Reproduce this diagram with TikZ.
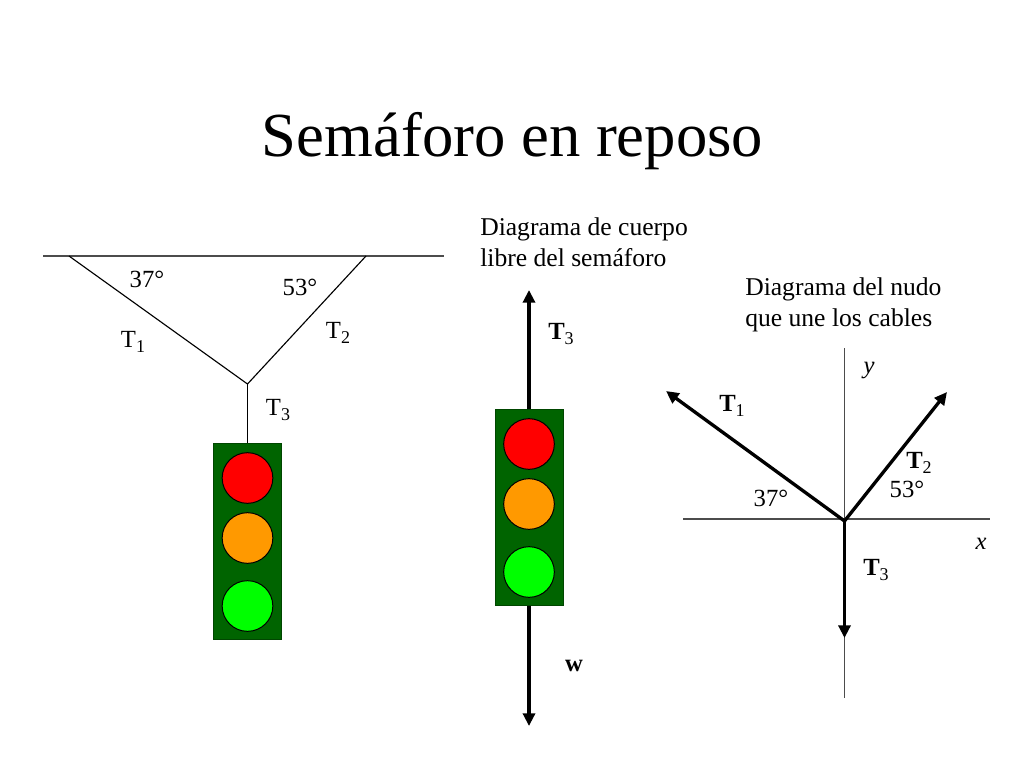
\documentclass[tikz,border=0pt]{standalone}
\usepackage{fontspec}
\usepackage{xcolor}
\usetikzlibrary{arrows.meta}
\setmainfont{Liberation Serif}
\definecolor{verdecaja}{RGB}{0,100,0}
\definecolor{rojoluz}{RGB}{255,0,0}
\definecolor{naranjaluz}{RGB}{255,153,0}
\definecolor{verdeluz}{RGB}{0,255,0}
\newcommand{\subind}[1]{\raisebox{-0.22em}{\fontsize{13.5}{15}\selectfont #1}}
\tikzset{
  caja/.style={draw=verdecaja!70!black,fill=verdecaja,line width=0.5pt,minimum width=51pt,minimum height=147pt,inner sep=0pt},
  luz/.style={circle,draw=black,line width=0.75pt,minimum size=38pt,inner sep=0pt},
  etiqueta/.style={inner sep=0pt,font=\fontsize{18.5}{23}\selectfont},
  rotulo/.style={inner sep=0pt,anchor=west,align=left,font=\fontsize{19.2}{23.25}\selectfont},
  negrita/.style={inner sep=0pt,font=\fontsize{18.5}{23}\bfseries\selectfont},
  cursiva/.style={inner sep=0pt,font=\fontsize{18.5}{23}\itshape\selectfont},
  cuerda/.style={line width=0.85pt},
  eje/.style={line width=1pt,black!70},
  fuerza/.style={line width=2.5pt,-{Triangle[length=9.5pt,width=9pt]}},
}
\begin{document}
\begin{tikzpicture}[x=0.75pt,y=-0.75pt]
\useasboundingbox (0,0) rectangle (1024,768);
\node[inner sep=0pt,font=\fontsize{47}{56}\selectfont] (titulo) at (512.5,141) {Semáforo en reposo};
% cuerdas y techo
\coordinate (techoA) at (43,256);
\coordinate (techoB) at (444,256);
\coordinate (anclaA) at (69,256);
\coordinate (anclaB) at (366,256);
\coordinate (nudo) at (247.5,384);
\draw[eje] (techoA) -- (techoB);
\node[caja] (cajaA) at (247.5,541) {};
\node[luz,fill=rojoluz] (rojoA) at (247.5,478) {};
\node[luz,fill=naranjaluz] (naranjaA) at (247.5,538) {};
\node[luz,fill=verdeluz] (verdeA) at (247.5,606) {};
\draw[cuerda] (anclaA) -- (nudo) -- (anclaB);
\draw[cuerda] (nudo) -- (cajaA.north);
\node[etiqueta] (ang37A) at (147,279) {37°};
\node[etiqueta] (ang53A) at (300,287) {53°};
\node[etiqueta] (t1A) at (133,342) {T\subind{1}};
\node[etiqueta] (t2A) at (338,333) {T\subind{2}};
\node[etiqueta] (t3A) at (278,410) {T\subind{3}};
% cuerpo libre
\node[rotulo] (textoB) at (480,242) {Diagrama de cuerpo\\libre del semáforo};
\node[caja] (cajaB) at (529,507.5) {};
\node[luz,fill=rojoluz] (rojoB) at (529,444) {};
\node[luz,fill=naranjaluz] (naranjaB) at (529,504) {};
\node[luz,fill=verdeluz] (verdeB) at (529,572) {};
\coordinate (puntaT) at (529,290);
\coordinate (puntaW) at (529,726);
\draw[fuerza] (cajaB.north) -- (puntaT);
\draw[fuerza] (cajaB.south) -- (puntaW);
\node[negrita] (t3B) at (561,334) {T\subind{\mdseries 3}};
\node[negrita] (pesoB) at (574,666) {w};
% nudo
\node[rotulo] (textoC) at (745,305) {Diagrama del nudo\\que une los cables};
\coordinate (ejeIzq) at (683,519);
\coordinate (ejeDer) at (990,519);
\coordinate (ejeSup) at (844.5,348);
\coordinate (ejeInf) at (844.5,698);
\coordinate (origen) at (844.5,521);
\coordinate (puntaA) at (666,391);
\coordinate (puntaB) at (947,392);
\coordinate (puntaC) at (844.5,638);
\draw[eje] (ejeIzq) -- (ejeDer);
\draw[eje] (ejeSup) -- (ejeInf);
\draw[fuerza] (origen) -- (puntaA);
\draw[fuerza] (origen) -- (puntaB);
\draw[fuerza] (origen) -- (puntaC);
\node[cursiva] (ejeY) at (869,370) {y};
\node[cursiva] (ejeX) at (981,544) {x};
\node[negrita] (t1C) at (732,406) {T\subind{\mdseries 1}};
\node[negrita] (t2C) at (919,463) {T\subind{\mdseries 2}};
\node[negrita] (t3C) at (876,570) {T\subind{\mdseries 3}};
\node[etiqueta] (ang53C) at (907,489) {53°};
\node[etiqueta] (ang37C) at (771,498) {37°};
\end{tikzpicture}
\end{document}
